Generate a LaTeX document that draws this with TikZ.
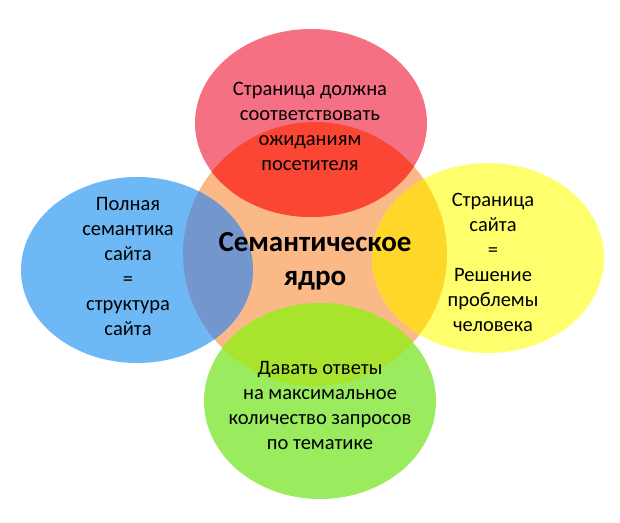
\documentclass[tikz,border=0pt]{standalone}
\usepackage{fontspec}
\setmainfont{Carlito}
\definecolor{corefill}{HTML}{FAB987}
\definecolor{redfill}{HTML}{F57082}
\definecolor{redcore}{HTML}{FA4632}
\definecolor{bluefill}{HTML}{6EB9F5}
\definecolor{bluecore}{HTML}{7396CD}
\definecolor{yellowfill}{HTML}{FFFF6E}
\definecolor{yellowcore}{HTML}{FFD728}
\definecolor{greenfill}{HTML}{9BEB5F}
\definecolor{greencore}{HTML}{A8E42D}

\begin{document}
\begin{tikzpicture}[x=1pt,y=-1pt,
	petal/.style={align=center,font=\fontsize{20.5}{25}\selectfont},
	kernel/.style={align=center,font=\bfseries\fontsize{29}{34}\selectfont}]
	\useasboundingbox (0,0) rectangle (620,522);
	% circles
	\fill[corefill] (315,254) circle (132);
	\fill[redfill] (311,123) ellipse [x radius=116, y radius=94];
	\fill[bluefill] (137,270) ellipse [x radius=116, y radius=93];
	\fill[yellowfill] (488,258) ellipse [x radius=116, y radius=95];
	\fill[greenfill] (320,401) ellipse [x radius=116, y radius=98];
	% overlaps with the core
	\begin{scope}
		\clip (315,254) circle (132);
		\fill[redcore] (311,123) ellipse [x radius=116, y radius=94];
		\fill[bluecore] (137,270) ellipse [x radius=116, y radius=93];
		\fill[yellowcore] (488,258) ellipse [x radius=116, y radius=95];
		\fill[greencore] (320,401) ellipse [x radius=116, y radius=98];
	\end{scope}
	% texts
	\node[kernel] (core) at (315,261) {Семантическое\\ядро};
	\node[petal] (page) at (310,126) {Страница должна\\соответствовать\\ожиданиям\\посетителя};
	\node[petal] (full) at (128,266) {Полная\\семантика\\сайта\\=\\структура\\сайта};
	\node[petal] (site) at (493,262) {Страница\\сайта\\=\\Решение\\проблемы\\человека};
	\node[petal] (answer) at (320,405) {Давать ответы\\на максимальное\\количество запросов\\по тематике};
\end{tikzpicture}
\end{document}
